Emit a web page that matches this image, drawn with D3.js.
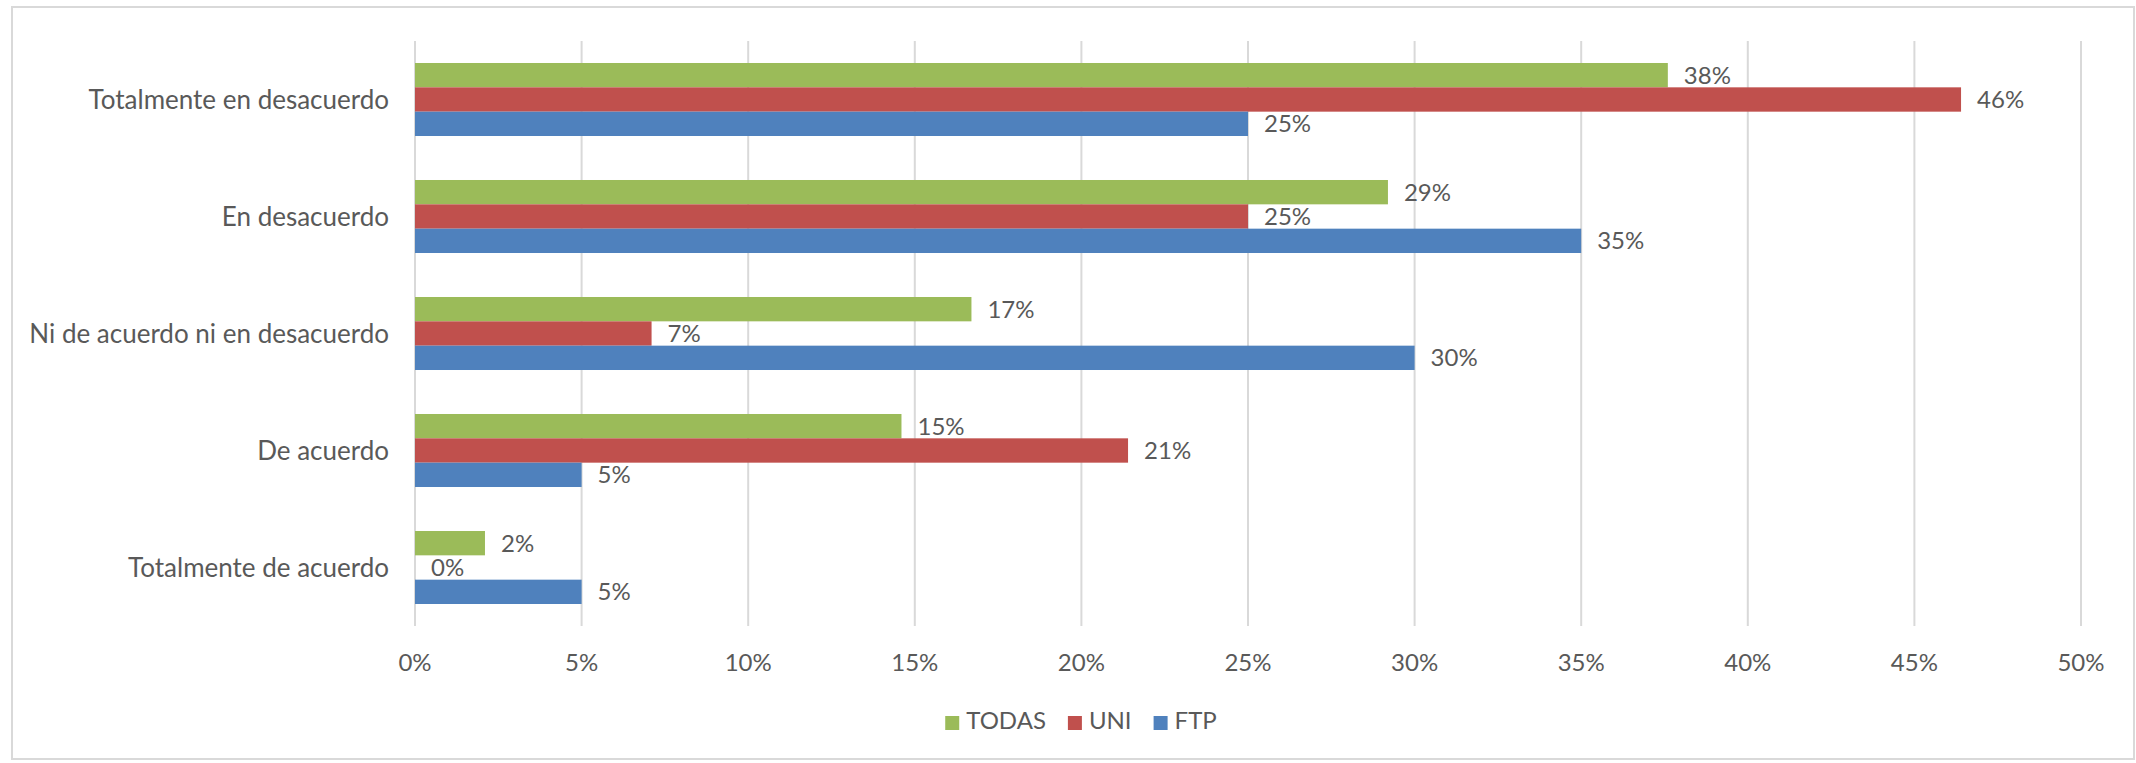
<!DOCTYPE html>
<html>
<head>
    <meta charset="utf-8">
    <style>
        body {
            margin: 0;
            background: #fff;
        }
        svg {
            display: block;
            font-family: Lato, 'Open Sans', sans-serif;
        }
        .lbl {
            fill: #595959;
            font-size: 24px;
        }
        .cat-lbl {
            font-size: 26px;
        }
    </style>
</head>
<body>
    <svg width="2136" height="763"></svg>

<script src="https://d3js.org/d3.v7.min.js"></script>
<script>
    // answers, top to bottom
    let categories = [
        "Totalmente en desacuerdo",
        "En desacuerdo",
        "Ni de acuerdo ni en desacuerdo",
        "De acuerdo",
        "Totalmente de acuerdo"
    ]
    let series = ["TODAS", "UNI", "FTP"]
    let colors = ["#9BBB59", "#C0504D", "#4F81BD"]

    // percentages
    let todas = [37.6, 29.2, 16.7, 14.6, 2.1]
    let uni = [46.4, 25.0, 7.1, 21.4, 0]
    let ftp = [25.0, 35.0, 30.0, 5.0, 5.0]

    let ticks = [0, 5, 10, 15, 20, 25, 30, 35, 40, 45, 50]

    let values = [todas, uni, ftp]

    let width = 2136
    let height = 763
    let svg = d3.select("svg")

    // light frame round the whole chart
    svg.append("rect")
        .attr("x", 12)
        .attr("y", 7)
        .attr("width", width - 14)
        .attr("height", height - 11)
        .style("fill", "none")
        .style("stroke", "#d9d9d9")
        .style("stroke-width", 2)

    let x = d3.scaleLinear()
        .domain([0, 50])
        .range([415, 2081])

    let y = d3.scaleBand()
        .domain(categories)
        .range([41, 626])
        .paddingInner(0.376)
        .paddingOuter(0.188)

    let ySub = d3.scaleBand()
        .domain(series)
        .range([0, y.bandwidth()])

    // vertical gridlines
    svg.selectAll(".grid")
        .data(ticks)
        .join("line")
        .attr("class", "grid")
        .attr("x1", d => x(d))
        .attr("x2", d => x(d))
        .attr("y1", 41)
        .attr("y2", 626)
        .style("stroke", "#d9d9d9")
        .style("stroke-width", 2)

    // tick labels
    svg.selectAll(".tick-lbl")
        .data(ticks)
        .join("text")
        .attr("class", "lbl tick-lbl")
        .attr("x", d => x(d))
        .attr("y", 671)
        .attr("text-anchor", "middle")
        .text(d => d + "%")

    // category labels
    svg.selectAll(".cat-lbl")
        .data(categories)
        .join("text")
        .attr("class", "lbl cat-lbl")
        .attr("x", 389)
        .attr("y", d => y(d) + y.bandwidth() / 2)
        .attr("dy", "0.35em")
        .attr("text-anchor", "end")
        .text(d => d)

    let rows = []
    series.forEach((s, i) => {
        categories.forEach((c, j) => {
            rows.push({ series: s, cat: c, value: values[i][j], color: colors[i] })
        })
    })

    svg.selectAll(".bar")
        .data(rows)
        .join("rect")
        .attr("class", "bar")
        .attr("x", x(0))
        .attr("y", d => y(d.cat) + ySub(d.series))
        .attr("width", d => x(d.value) - x(0))
        .attr("height", ySub.bandwidth())
        .style("fill", d => d.color)

    svg.selectAll(".val-lbl")
        .data(rows)
        .join("text")
        .attr("class", "lbl val-lbl")
        .attr("x", d => x(d.value) + 16)
        .attr("y", d => y(d.cat) + ySub(d.series) + ySub.bandwidth() / 2)
        .attr("dy", "0.35em")
        .text(d => Math.round(d.value) + "%")

    // legend, laid out left to right and centred
    let legend = svg.append("g")
    let lx = 0
    series.forEach((s, i) => {
        let item = legend.append("g").attr("transform", "translate(" + lx + ",0)")
        item.append("rect")
            .attr("x", 0)
            .attr("y", -13)
            .attr("width", 14)
            .attr("height", 14)
            .style("fill", colors[i])
        let t = item.append("text")
            .attr("class", "lbl")
            .attr("x", 21)
            .attr("y", 0)
            .text(s)
        lx += 21 + t.node().getComputedTextLength() + 22
    })
    let legendW = lx - 22
    legend.attr("transform", "translate(" + (1081 - legendW / 2) + ",729)")
</script>
</body>
</html>
